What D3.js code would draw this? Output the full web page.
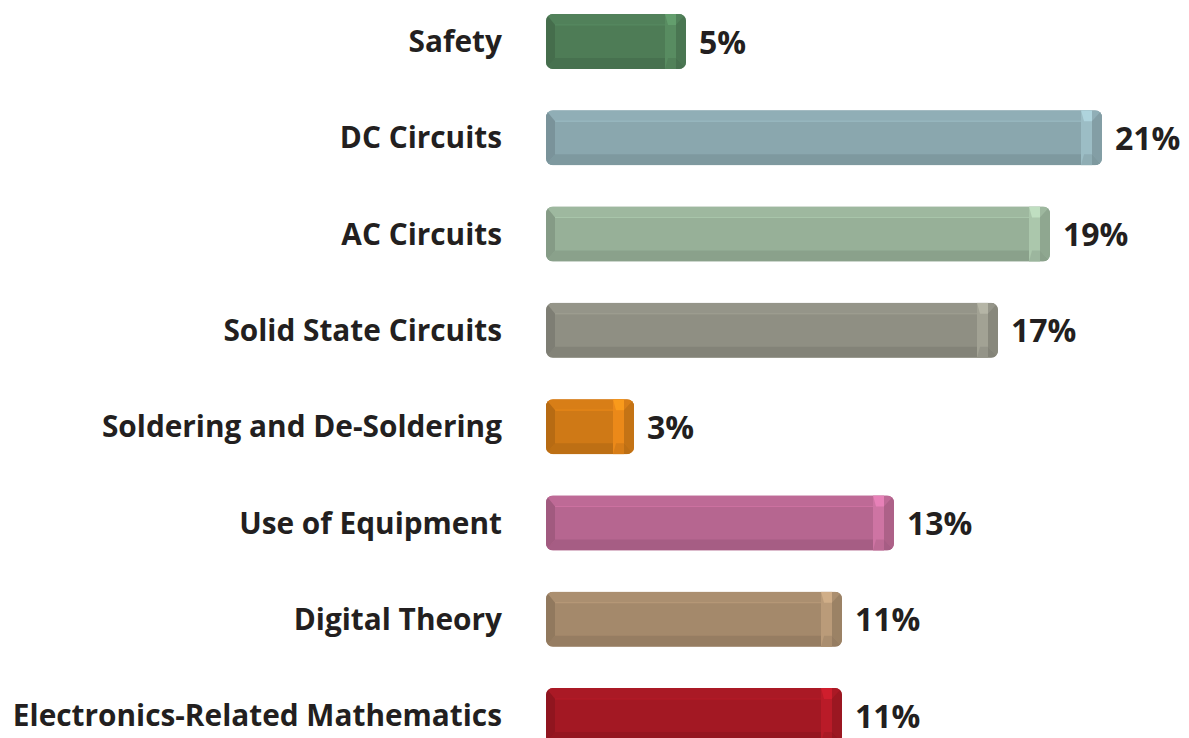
<!DOCTYPE html>
<html><head><meta charset="utf-8">
<script src="https://cdn.jsdelivr.net/npm/d3@7"></script>
<style>body{margin:0;background:#fff}svg{display:block}</style>
</head><body>
<script>
const categories = ["Safety","DC Circuits","AC Circuits","Solid State Circuits","Soldering and De-Soldering","Use of Equipment","Digital Theory","Electronics-Related Mathematics"];
const values = [5,21,19,17,3,13,11,11];
const colors = ["#4e7c56","#8aa7ae","#97b098","#8f8f83","#cf7916","#b66690","#a4896b","#a31823"];

const W=1189,H=738;
const svg=d3.select("body").append("svg").attr("width",W).attr("height",H);
const y=d3.scaleBand().domain(categories).range([-5.3,762.3]).paddingInner(0.429).paddingOuter(0.2);
const x=d3.scaleLinear().domain([0,21]).range([0,546]);
const x0=546, cap=10;
const font="'Open Sans', 'Noto Sans', sans-serif";

const g=svg.selectAll("g.row").data(categories).join("g").attr("class","row")
 .attr("transform",d=>`translate(0,${y(d)})`);
const bh=y.bandwidth();

g.append("text").attr("x",502).attr("y",bh/2).attr("dy","0.36em").attr("text-anchor","end")
 .attr("font-family",font).attr("font-weight",700).attr("font-size",29.8).attr("fill","#231f20").text(d=>d);

g.each(function(d,i){
  const s=d3.select(this);
  const w=cap+x(values[i]);
  const c=d3.color(colors[i]);
  const id="clip"+i;
  s.append("clipPath").attr("id",id).append("rect").attr("x",x0).attr("y",0).attr("width",w).attr("height",bh).attr("rx",7);
  const b=s.append("g").attr("clip-path",`url(#${id})`);
  const x1=x0+w, L=9, R=10, T=11, B=11, rc=11;
  b.append("rect").attr("x",x0).attr("y",0).attr("width",w).attr("height",bh).attr("fill",c.formatHex());
  b.append("path").attr("d",`M${x0},0L${x1},0L${x1-R},${T}L${x0+L},${T}Z`).attr("fill",c.brighter(0.12).formatHex());
  b.append("path").attr("d",`M${x0},${bh}L${x1},${bh}L${x1-R},${bh-B}L${x0+L},${bh-B}Z`).attr("fill",c.darker(0.25).formatHex());
  b.append("path").attr("d",`M${x0},0L${x0+L},${T}L${x0+L},${bh-B}L${x0},${bh}Z`).attr("fill",c.darker(0.35).formatHex());
  b.append("path").attr("d",`M${x1},0L${x1-R},${T}L${x1-R},${bh-B}L${x1},${bh}Z`).attr("fill",c.darker(0.15).formatHex());
  b.append("rect").attr("x",x1-R-rc).attr("y",0).attr("width",rc).attr("height",bh).attr("fill",c.brighter(0.35).formatHex());
  b.append("path").attr("d",`M${x1-R-rc},0L${x1-R},0L${x1-R},${T}L${x1-R-rc+3},${T}Z`).attr("fill",c.brighter(0.8).formatHex()).attr("opacity",0.7);
  b.append("path").attr("d",`M${x1-R-rc},${bh}L${x1-R},${bh}L${x1-R},${bh-B}L${x1-R-rc+3},${bh-B}Z`).attr("fill",c.brighter(0.1).formatHex());
  b.append("line").attr("x1",x0+L).attr("x2",x1-R-rc).attr("y1",T).attr("y2",T).attr("stroke",c.brighter(0.5).formatHex()).attr("stroke-width",1).attr("opacity",0.6);
  s.append("text").attr("x",x1+13).attr("y",bh/2).attr("dy","0.38em")
   .attr("font-family",font).attr("font-weight",700).attr("font-size",32).attr("fill","#231f20").text(values[i]+"%");
});
</script>
</body></html>
